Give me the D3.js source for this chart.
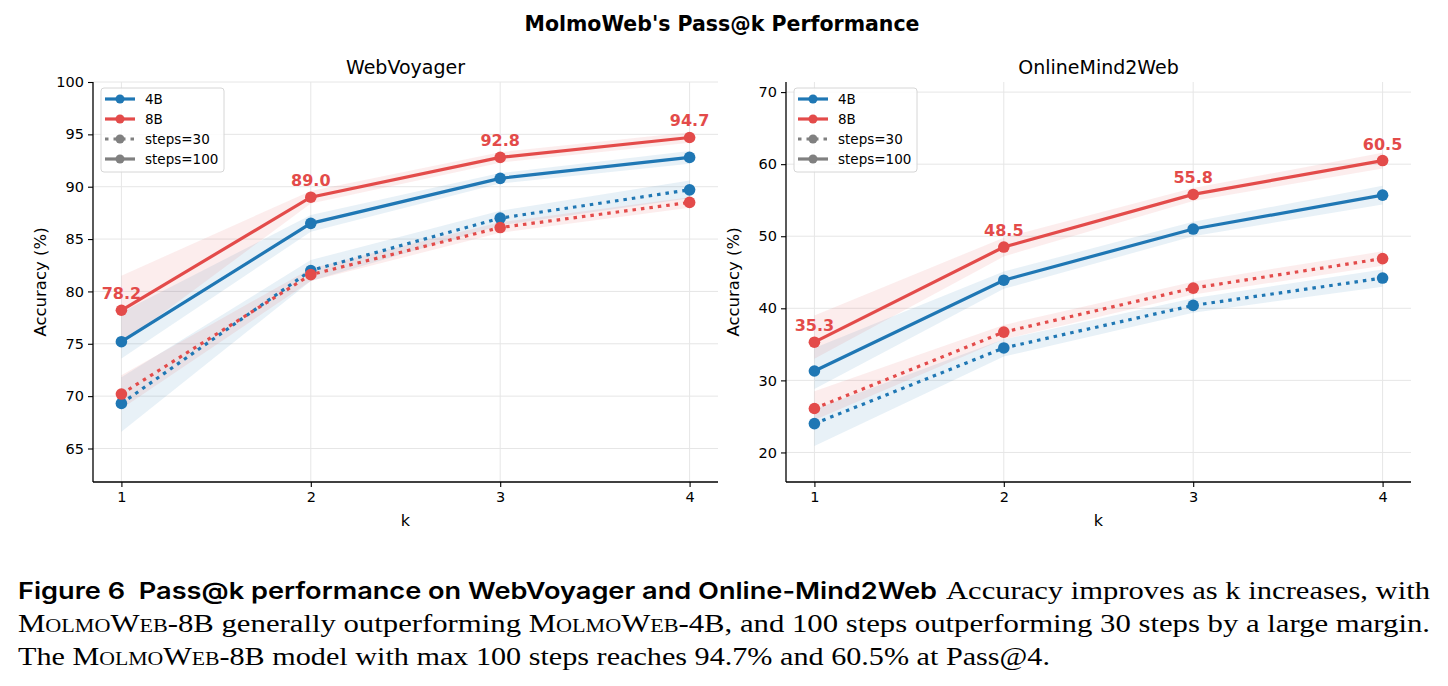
<!DOCTYPE html>
<html>
<head>
<meta charset="utf-8">
<script src="https://cdn.jsdelivr.net/npm/d3@7"></script>
<style>
  body { margin: 0; background: #fff; }
  #wrap { position: relative; width: 1448px; height: 686px; overflow: hidden; }
  svg { position: absolute; left: 0; top: 0; }
  text { font-family: "DejaVu Sans", sans-serif; }
  .cap { position: absolute; white-space: nowrap; transform-origin: 0 0;
    font-family: "Liberation Serif", "DejaVu Serif", serif; font-size: 25px; line-height: 30px; color: #000; }
  .cap.bold { font-family: Inter, "Noto Sans", sans-serif; font-weight: 600; font-size: 23px; }
  .sc { font-variant: small-caps; }
</style>
</head>
<body>
<div id="wrap">
<svg id="chart" width="1448" height="570"></svg>
<div class="cap bold" data-x0="18" data-x1="937" style="top:576px">Figure 6&nbsp;&nbsp;Pass@k performance on WebVoyager and Online-Mind2Web</div>
<div class="cap" data-x0="946" data-x1="1430" style="top:576px">Accuracy improves as k increases, with</div>
<div class="cap" data-x0="18" data-x1="1430" style="top:609px"><span class="sc">MolmoWeb</span>-8B generally outperforming <span class="sc">MolmoWeb</span>-4B, and 100 steps outperforming 30 steps by a large margin.</div>
<div class="cap" data-x0="18" data-x1="1050" style="top:642px">The <span class="sc">MolmoWeb</span>-8B model with max 100 steps reaches 94.7% and 60.5% at Pass@4.</div>
</div>
<script>
// data ------------------------------------------------------
var kValues = [1, 2, 3, 4];

// WebVoyager
var wv4B100 = [75.2, 86.5, 90.8, 92.8];
var wv4B100Lo = [73.6, 85.7, 90.3, 92.2];
var wv4B100Hi = [78.0, 87.3, 91.3, 93.4];
var wv8B100 = [78.2, 89.0, 92.8, 94.7];
var wv8B100Lo = [75.0, 88.4, 92.3, 94.2];
var wv8B100Hi = [81.5, 89.6, 93.3, 95.2];
var wv4B30 = [69.3, 82.0, 87.0, 89.7];
var wv4B30Lo = [66.6, 81.0, 86.3, 88.9];
var wv4B30Hi = [71.8, 83.0, 87.7, 90.6];
var wv8B30 = [70.2, 81.6, 86.1, 88.5];
var wv8B30Lo = [68.8, 81.0, 85.6, 88.0];
var wv8B30Hi = [72.0, 82.2, 86.6, 89.0];
var wvTicks = [65, 70, 75, 80, 85, 90, 95, 100];

// OnlineMind2Web
var om4B100 = [31.3, 43.9, 51.0, 55.7];
var om4B100Lo = [28.8, 42.7, 50.0, 54.4];
var om4B100Hi = [34.5, 45.1, 52.0, 57.0];
var om8B100 = [35.3, 48.5, 55.8, 60.5];
var om8B100Lo = [33.0, 47.2, 54.9, 59.4];
var om8B100Hi = [39.0, 49.8, 56.7, 61.6];
var om4B30 = [24.0, 34.5, 40.4, 44.2];
var om4B30Lo = [20.9, 33.3, 39.4, 43.0];
var om4B30Hi = [26.0, 35.7, 41.4, 45.4];
var om8B30 = [26.1, 36.7, 42.8, 46.9];
var om8B30Lo = [24.5, 35.7, 41.9, 45.9];
var om8B30Hi = [28.5, 37.7, 43.7, 47.9];
var omTicks = [20, 30, 40, 50, 60, 70];

var blue = "#1f77b4";
var red = "#e34b4a";
var gray = "#808080";

var svg = d3.select("#chart");

// Title
svg.append("text")
    .attr("x", 722).attr("y", 31)
    .attr("text-anchor", "middle")
    .style("font-size", "20.5px").style("font-weight", "bold")
    .text("MolmoWeb's Pass@k Performance");

function drawPanel(p) {
    var x = d3.scaleLinear().domain([0.85, 4.15]).range([p.left, p.right]);
    var y = d3.scaleLinear().domain(p.yDomain).range([482, 82]);
    var g = svg.append("g");

    // grid
    g.selectAll(".gy").data(p.ticks).enter().append("line")
        .attr("x1", p.left).attr("x2", p.right)
        .attr("y1", function(d) { return y(d) }).attr("y2", function(d) { return y(d) })
        .style("stroke", "#e6e6e6").style("stroke-width", 1);
    g.selectAll(".gx").data(kValues).enter().append("line")
        .attr("x1", function(d) { return x(d) }).attr("x2", function(d) { return x(d) })
        .attr("y1", 82).attr("y2", 482)
        .style("stroke", "#e6e6e6").style("stroke-width", 1);

    // bands
    var area = d3.area()
        .x(function(d) { return x(d.k) })
        .y0(function(d) { return y(d.lo) })
        .y1(function(d) { return y(d.hi) });
    p.series.forEach(function(s) {
        var rows = kValues.map(function(k, i) { return {k: k, lo: s.lo[i], hi: s.hi[i]} });
        g.append("path").datum(rows).attr("d", area)
            .style("fill", s.color).style("fill-opacity", 0.1);
    });

    // lines + markers
    var line = d3.line().x(function(d) { return x(d.k) }).y(function(d) { return y(d.v) });
    p.series.forEach(function(s) {
        var rows = kValues.map(function(k, i) { return {k: k, v: s.values[i]} });
        g.append("path").datum(rows).attr("d", line)
            .style("fill", "none").style("stroke", s.color).style("stroke-width", 3.2)
            .style("stroke-dasharray", s.dotted ? "3.5,5" : null);
        g.selectAll(null).data(rows).enter().append("circle")
            .attr("cx", function(d) { return x(d.k) })
            .attr("cy", function(d) { return y(d.v) })
            .attr("r", 5.8).style("fill", s.color);
        if (s.labels) {
            g.selectAll(null).data(rows).enter().append("text")
                .attr("x", function(d) { return x(d.k) })
                .attr("y", function(d) { return y(d.v) - 11 })
                .attr("text-anchor", "middle")
                .style("font-size", "16px").style("font-weight", "bold").style("fill", s.color)
                .text(function(d) { return d.v.toFixed(1) });
        }
    });

    // axes
    var yAxis = d3.axisLeft(y).tickValues(p.ticks).tickSize(5).tickPadding(4);
    var xAxis = d3.axisBottom(x).tickValues(kValues).tickFormat(d3.format("d")).tickSize(5).tickPadding(5);
    var ya = g.append("g").attr("transform", "translate(" + p.left + ",0)").call(yAxis);
    var xa = g.append("g").attr("transform", "translate(0,482)").call(xAxis);
    [ya, xa].forEach(function(a) {
        a.select(".domain").style("stroke", "#000").style("stroke-width", 1.3);
        a.selectAll(".tick line").style("stroke", "#000").style("stroke-width", 1.1);
        a.selectAll(".tick text").style("font-size", "14.5px").style("font-family", "DejaVu Sans").style("fill", "#000");
    });
    xa.select(".domain").attr("d", "M" + p.left + ",0H" + p.right);
    ya.select(".domain").attr("d", "M0,482V82");

    // titles
    svg.append("text")
        .attr("x", (p.left + p.right) / 2).attr("y", 74)
        .attr("text-anchor", "middle").style("font-size", "19px")
        .text(p.title);
    svg.append("text")
        .attr("x", (p.left + p.right) / 2).attr("y", 526)
        .attr("text-anchor", "middle").style("font-size", "16px")
        .text("k");
    svg.append("text")
        .attr("transform", "translate(" + (p.left - 47) + ",282) rotate(-90)")
        .attr("text-anchor", "middle").style("font-size", "16.5px")
        .text("Accuracy (%)");

    // legend
    var lx = p.left + 8, ly = 88;
    var lg = svg.append("g");
    lg.append("rect").attr("x", lx).attr("y", ly).attr("width", 123).attr("height", 84)
        .attr("rx", 3).style("fill", "#fff").style("fill-opacity", 0.85)
        .style("stroke", "#d6d6d6").style("stroke-width", 1);
    var items = [
        {name: "4B", color: blue, dotted: false},
        {name: "8B", color: red, dotted: false},
        {name: "steps=30", color: gray, dotted: true},
        {name: "steps=100", color: gray, dotted: false}
    ];
    items.forEach(function(it, i) {
        var cy = ly + 11 + i * 20;
        lg.append("line").attr("x1", lx + 4).attr("x2", lx + 34).attr("y1", cy).attr("y2", cy)
            .style("stroke", it.color).style("stroke-width", 3.2)
            .style("stroke-dasharray", it.dotted ? "3.5,5" : null);
        lg.append("circle").attr("cx", lx + 19).attr("cy", cy).attr("r", 4.5).style("fill", it.color);
        lg.append("text").attr("x", lx + 44).attr("y", cy + 5)
            .style("font-size", "13.5px").text(it.name);
    });
}

drawPanel({
    title: "WebVoyager", left: 93, right: 718, yDomain: [61.8, 100], ticks: wvTicks,
    series: [
        {values: wv4B30, lo: wv4B30Lo, hi: wv4B30Hi, color: blue, dotted: true},
        {values: wv8B30, lo: wv8B30Lo, hi: wv8B30Hi, color: red, dotted: true},
        {values: wv4B100, lo: wv4B100Lo, hi: wv4B100Hi, color: blue, dotted: false},
        {values: wv8B100, lo: wv8B100Lo, hi: wv8B100Hi, color: red, dotted: false, labels: true}
    ]
});

drawPanel({
    title: "OnlineMind2Web", left: 786, right: 1411, yDomain: [15.9, 71.4], ticks: omTicks,
    series: [
        {values: om4B30, lo: om4B30Lo, hi: om4B30Hi, color: blue, dotted: true},
        {values: om8B30, lo: om8B30Lo, hi: om8B30Hi, color: red, dotted: true},
        {values: om4B100, lo: om4B100Lo, hi: om4B100Hi, color: blue, dotted: false},
        {values: om8B100, lo: om8B100Lo, hi: om8B100Hi, color: red, dotted: false, labels: true}
    ]
});

// stretch caption lines to the widths they take in the figure
document.querySelectorAll(".cap").forEach(function(el) {
    var x0 = +el.dataset.x0, x1 = +el.dataset.x1;
    var w = el.getBoundingClientRect().width;
    el.style.left = x0 + "px";
    el.style.transform = "scaleX(" + ((x1 - x0) / w) + ")";
});
</script>
</body>
</html>
